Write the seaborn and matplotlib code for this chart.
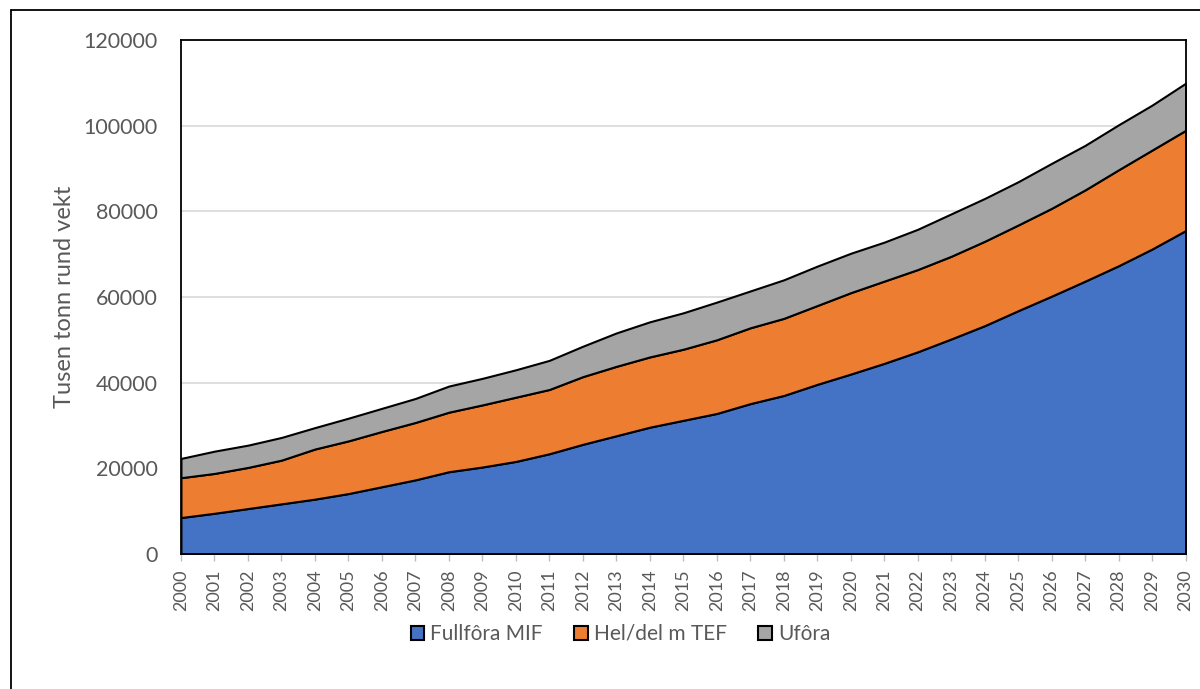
import numpy as np
import matplotlib
matplotlib.use("Agg")
import matplotlib.pyplot as plt
import seaborn as sns
from matplotlib.lines import Line2D

years = list(range(2000, 2031))

# tusen tonn rund vekt, per kategori
fullfora_mif = [8500, 9500, 10600, 11700, 12800, 14100, 15700, 17300, 19200, 20300,
                21600, 23400, 25600, 27600, 29600, 31200, 32800, 35100, 37000, 39600,
                42000, 44500, 47200, 50200, 53300, 56800, 60200, 63700, 67300, 71200,
                75500]
hel_del_tef = [9300, 9300, 9600, 10200, 11700, 12300, 12900, 13400, 13900, 14500,
               15000, 15000, 15800, 16200, 16400, 16600, 17200, 17700, 18000, 18400,
               19000, 19200, 19200, 19300, 19700, 20000, 20500, 21300, 22400, 23100,
               23400]
ufora = [4500, 5200, 5200, 5300, 5000, 5300, 5400, 5600, 6100, 6200,
         6400, 6800, 7100, 7800, 8200, 8500, 8800, 8600, 9000, 9200,
         9200, 9100, 9400, 9900, 10000, 10100, 10500, 10400, 10500, 10500,
         11000]

labels = ["Fullfôra MIF", "Hel/del m TEF", "Ufôra"]
colors = ["#4472C4", "#ED7D31", "#A5A5A5"]
yticks = [0, 20000, 40000, 60000, 80000, 100000, 120000]

sns.set_theme(style="white")
plt.rcParams["font.family"] = ["Lato", "DejaVu Sans"]

fig = plt.figure(figsize=(12, 6.89), dpi=100)
ax = fig.add_axes([0.1508, 0.196, 0.8372, 0.746])

ax.stackplot(years, fullfora_mif, hel_del_tef, ufora, labels=labels, colors=colors,
             edgecolor="black", linewidth=1.3)

ax.set_xlim(2000, 2030)
ax.set_ylim(0, 120000)
ax.set_yticks(yticks)
ax.set_yticklabels([str(v) for v in yticks])
ax.set_xticks(years)
ax.set_xticklabels([str(y) for y in years], rotation=90)
ax.yaxis.grid(True, color="#d9d9d9", linewidth=1.2)
ax.set_axisbelow(True)

for s in ax.spines.values():
    s.set_color("black")
    s.set_linewidth(1.3)

ax.tick_params(axis="y", labelsize=15.5, colors="#595959", length=0, pad=16.5)
ax.tick_params(axis="x", labelsize=13, colors="#595959", length=5, width=1,
               direction="out", bottom=True, pad=6)
ax.tick_params(axis="x", color="#bfbfbf")
ax.set_ylabel("Tusen tonn rund vekt", fontsize=17, color="#595959", labelpad=6)

handles, lbls = ax.get_legend_handles_labels()
for h in handles:
    h.set_edgecolor("black")
    h.set_linewidth(1.5)
leg = fig.legend(handles, lbls, loc="center", bbox_to_anchor=(0.517, 0.08), ncol=3,
                 frameon=False, fontsize=15, handlelength=0.65, handleheight=0.65,
                 columnspacing=1.5, handletextpad=0.3)
for t in leg.get_texts():
    t.set_color("#595959")

# chart frame: only left and top edges fall inside the picture
fig.add_artist(Line2D([11 / 1200, 11 / 1200], [0, 1 - 10 / 689], transform=fig.transFigure,
                      color="black", linewidth=1.3))
fig.add_artist(Line2D([11 / 1200, 1], [1 - 10 / 689, 1 - 10 / 689], transform=fig.transFigure,
                      color="black", linewidth=1.3))

fig.savefig("out.png", dpi=100)
